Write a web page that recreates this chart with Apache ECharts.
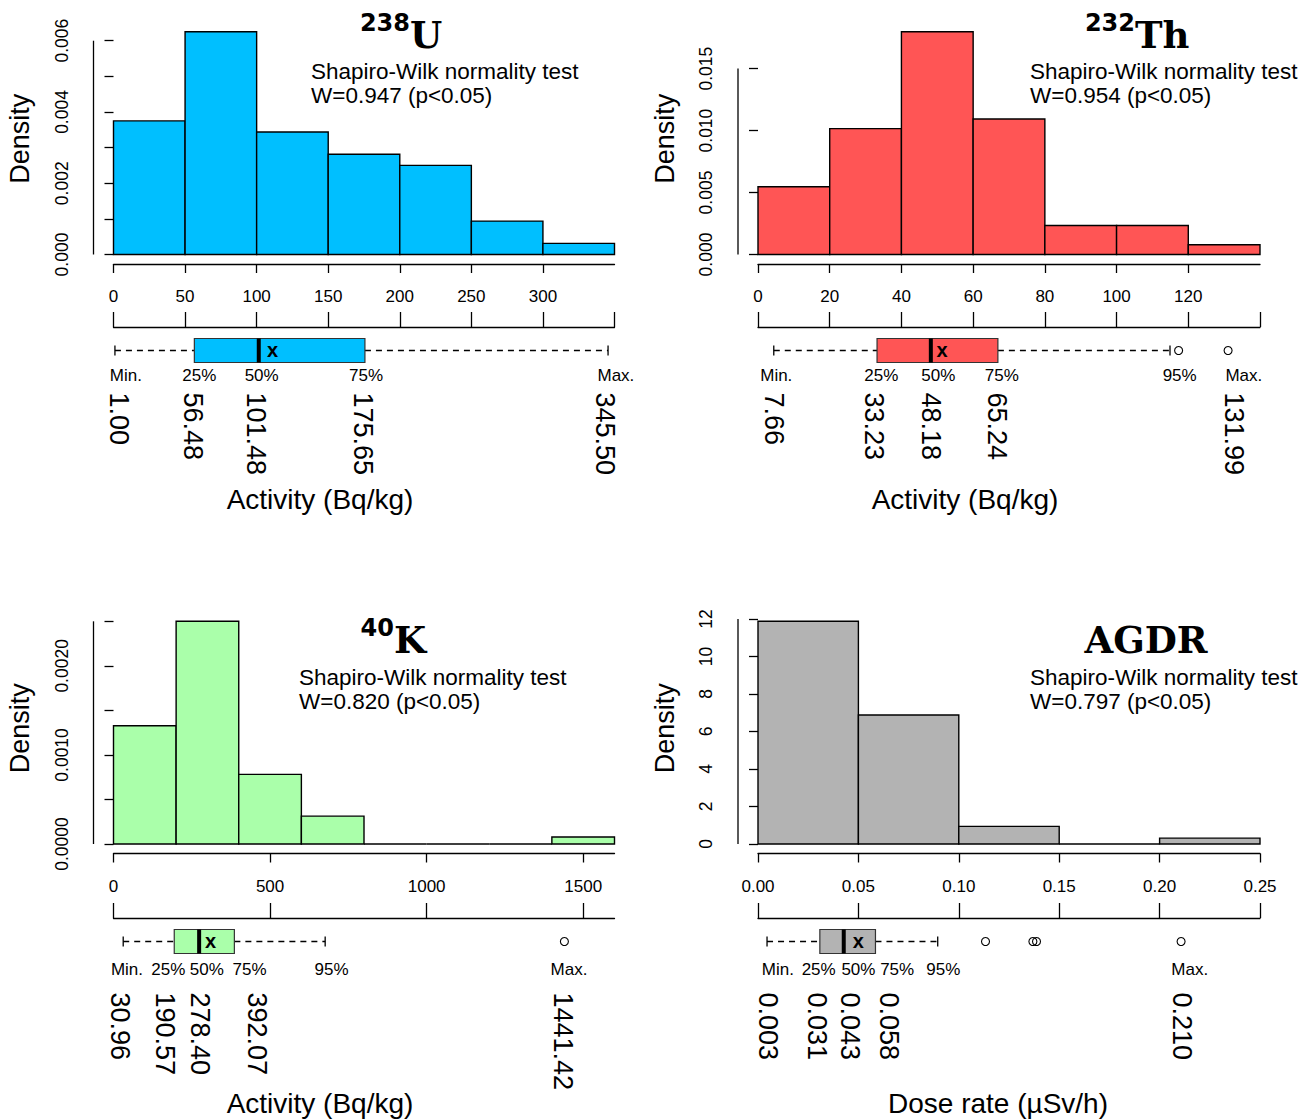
<!DOCTYPE html>
<html><head><meta charset="utf-8">
<script src="https://cdn.jsdelivr.net/npm/echarts@6/dist/echarts.min.js"></script>
<style>html,body{margin:0;padding:0;background:#fff}#c{width:1309px;height:1119px}</style>
</head><body><div id="c"></div>
<script>
// ================= DATA =================
// 238U
const uBreaks = [0, 50, 100, 150, 200, 250, 300, 350];
const uDensity = [0.00375, 0.00625, 0.0034375, 0.0028125, 0.0025, 0.0009375, 0.0003125];
const uAxisTicks = [0, 50, 100, 150, 200, 250, 300];
const uBracketTicks = [0, 50, 100, 150, 200, 250, 300, 350];
const uYTicks = [0, 0.001, 0.002, 0.003, 0.004, 0.005, 0.006];
const uYLabels = [0, 0.002, 0.004, 0.006];
const uBox = [1.0, 56.48, 101.48, 175.65, 345.5];   // whisker low, Q1, median, Q3, whisker high
const uMean = 111.2;
const uOutliers = [];
const uPctNames = ['Min.', '25%', '50%', '75%', 'Max.'];
const uPctAt = [8.6, 59.9, 103.5, 176.4, 351];
const uValNames = ['1.00', '56.48', '101.48', '175.65', '345.50'];
const uValAt = [3.8, 55.8, 99.3, 174, 343.2];
const uTest = ['Shapiro-Wilk normality test', 'W=0.947 (p<0.05)'];

// 232Th
const thBreaks = [0, 20, 40, 60, 80, 100, 120, 140];
const thDensity = [0.00546875, 0.01015625, 0.01796875, 0.0109375, 0.00234375, 0.00234375, 0.00078125];
const thAxisTicks = [0, 20, 40, 60, 80, 100, 120];
const thBracketTicks = [0, 20, 40, 60, 80, 100, 120, 140];
const thYTicks = [0, 0.005, 0.010, 0.015];
const thYLabels = [0, 0.005, 0.010, 0.015];
const thBox = [4.4, 33.2, 48.2, 66.9, 114.9];
const thMean = 51.3;
const thOutliers = [117.3, 131.1];
const thPctNames = ['Min.', '25%', '50%', '75%', '95%', 'Max.'];
const thPctAt = [5.1, 34.4, 50.3, 68.0, 117.6, 135.5];
const thValNames = ['7.66', '33.23', '48.18', '65.24', '131.99'];
const thValAt = [4.6, 32.4, 48.2, 66.7, 132.7];
const thTest = ['Shapiro-Wilk normality test', 'W=0.954 (p<0.05)'];

// 40K
const kBreaks = [0, 200, 400, 600, 800, 1000, 1200, 1400, 1600];
const kDensity = [0.00132813, 0.0025, 0.00078125, 0.0003125, 0, 0, 0, 0.000078125];
const kAxisTicks = [0, 500, 1000, 1500];
const kBracketTicks = [0, 500, 1000, 1500];
const kYTicks = [0, 0.0005, 0.0010, 0.0015, 0.0020, 0.0025];
const kYLabels = [0, 0.0010, 0.0020];
const kBox = [31, 194, 273.5, 386, 676];
const kMean = 310;
const kOutliers = [1440];
const kPctNames = ['Min.', '25%', '50%', '75%', '95%', 'Max.'];
const kPctAt = [43, 175, 298, 434.7, 696.6, 1454.8];
const kValNames = ['30.96', '190.57', '278.40', '392.07', '1441.42'];
const kValAt = [22.3, 164.4, 275.7, 456.7, 1436];
const kTest = ['Shapiro-Wilk normality test', 'W=0.820 (p<0.05)'];

// AGDR
const gBreaks = [0, 0.05, 0.10, 0.15, 0.20, 0.25];
const gDensity = [11.875, 6.875, 0.9375, 0, 0.3125];
const gAxisTicks = [0, 0.05, 0.10, 0.15, 0.20, 0.25];
const gBracketTicks = [0, 0.05, 0.10, 0.15, 0.20, 0.25];
const gYTicks = [0, 2, 4, 6, 8, 10, 12];
const gYLabels = [0, 2, 4, 6, 8, 10, 12];
const gBox = [0.0045, 0.0308, 0.0427, 0.0585, 0.0895];
const gMean = 0.050;
const gOutliers = [0.1133, 0.1369, 0.1387, 0.2107];
const gPctNames = ['Min.', '25%', '50%', '75%', '95%', 'Max.'];
const gPctAt = [0.0099, 0.0302, 0.0500, 0.0693, 0.0923, 0.2150];
const gValNames = ['0.003', '0.031', '0.043', '0.058', '0.210'];
const gValAt = [0.0048, 0.0292, 0.0457, 0.065, 0.2112];
const gTest = ['Shapiro-Wilk normality test', 'W=0.797 (p<0.05)'];

// ================= LAYOUT / STYLE =================
const SANS = '"Liberation Sans", Arial, Helvetica, sans-serif';
const SUPF = '"DejaVu Sans", "Liberation Sans", sans-serif';
const SERIF = '"DejaVu Serif", "Liberation Serif", serif';

const panels = [
  {breaks:uBreaks, density:uDensity, axisTicks:uAxisTicks, bracketTicks:uBracketTicks, yTicks:uYTicks, yLabels:uYLabels,
   yDigits:3, xDigits:0, box:uBox, mean:uMean, outliers:uOutliers, pctNames:uPctNames, pctAt:uPctAt, valNames:uValNames, valAt:uValAt,
   test:uTest, color:'#00BFFF', left:113.5, width:501, base:254.5, boxTop:327, pctDy:25, valDy:42,
   sup:'238', main:'U', titleX:410, supY:23, mainY:35, testX:311, testY:71, xTitle:'Activity (Bq/kg)', xTitleX:320, xTitleY:499},
  {breaks:thBreaks, density:thDensity, axisTicks:thAxisTicks, bracketTicks:thBracketTicks, yTicks:thYTicks, yLabels:thYLabels,
   yDigits:3, xDigits:0, box:thBox, mean:thMean, outliers:thOutliers, pctNames:thPctNames, pctAt:thPctAt, valNames:thValNames, valAt:thValAt,
   test:thTest, color:'#FF5555', left:758, width:502, base:254.5, boxTop:327, pctDy:25, valDy:42,
   sup:'232', main:'Th', titleX:1135, supY:23, mainY:35, testX:1030, testY:71, xTitle:'Activity (Bq/kg)', xTitleX:965, xTitleY:499},
  {breaks:kBreaks, density:kDensity, axisTicks:kAxisTicks, bracketTicks:kBracketTicks, yTicks:kYTicks, yLabels:kYLabels,
   yDigits:4, xDigits:0, box:kBox, mean:kMean, outliers:kOutliers, pctNames:kPctNames, pctAt:kPctAt, valNames:kValNames, valAt:kValAt,
   test:kTest, color:'#AAFFAA', left:113.5, width:501, base:844, boxTop:918, pctDy:28, valDy:51,
   sup:'40', main:'K', titleX:394, supY:628, mainY:640, testX:299, testY:677, xTitle:'Activity (Bq/kg)', xTitleX:320, xTitleY:1103},
  {breaks:gBreaks, density:gDensity, axisTicks:gAxisTicks, bracketTicks:gBracketTicks, yTicks:gYTicks, yLabels:gYLabels,
   yDigits:0, xDigits:2, box:gBox, mean:gMean, outliers:gOutliers, pctNames:gPctNames, pctAt:gPctAt, valNames:gValNames, valAt:gValAt,
   test:gTest, color:'#B3B3B3', left:758, width:502, base:844, boxTop:918, pctDy:28, valDy:51,
   sup:'', main:'AGDR', titleX:1146, supY:628, mainY:640, testX:1030, testY:677, xTitle:'Dose rate (\u00B5Sv/h)', xTitleX:998, xTitleY:1103}
];

const HIST_H = 231.6;
const LW = 1.3;
const grid = [], xAxis = [], yAxis = [], series = [], graphic = [];

function txt(props) {
  const s = props.style;
  if (s.textAlign) s.align = s.textAlign;
  if (s.textVerticalAlign) s.verticalAlign = s.textVerticalAlign;
  return props;
}

panels.forEach(p => {
  const gA = grid.length;
  const xmax = p.breaks[p.breaks.length - 1];
  const ymax = Math.max.apply(null, p.density) * 1.04;
  grid.push({left: p.left, width: p.width, top: p.base - HIST_H, height: HIST_H});
  grid.push({left: p.left, width: p.width, top: p.boxTop, height: 46});

  xAxis.push({gridIndex: gA, type: 'value', min: 0, max: xmax, position: 'bottom', offset: 9.5,
    axisLine: {show: true, onZero: false, lineStyle: {color: '#000', width: LW}},
    axisTick: {show: true, length: 9, customValues: p.axisTicks, lineStyle: {color: '#000', width: LW}},
    axisLabel: {show: true, customValues: p.axisTicks, fontSize: 17, color: '#000', fontFamily: SANS, margin: 24,
      formatter: v => Number(v).toFixed(p.xDigits)},
    splitLine: {show: false}});
  xAxis.push({gridIndex: gA + 1, type: 'value', min: 0, max: xmax, position: 'top',
    axisLine: {show: true, onZero: false, lineStyle: {color: '#000', width: LW}},
    axisTick: {show: true, inside: false, length: 15, customValues: p.bracketTicks, lineStyle: {color: '#000', width: LW}},
    axisLabel: {show: false}, splitLine: {show: false}});

  yAxis.push({gridIndex: gA, type: 'value', min: 0, max: ymax, position: 'left', offset: 20,
    axisLine: {show: false},
    axisTick: {show: true, length: 9, customValues: p.yTicks, lineStyle: {color: '#000', width: LW}},
    axisLabel: {show: true, customValues: p.yLabels, rotate: 90, fontSize: 17.5, color: '#000', fontFamily: SANS, margin: 23,
      formatter: v => Number(v).toFixed(p.yDigits)},
    splitLine: {show: false},
    name: 'Density', nameLocation: 'middle', nameRotate: 90, nameGap: 60,
    nameTextStyle: {fontSize: 27, color: '#000', fontFamily: SANS}});
  yAxis.push({gridIndex: gA + 1, type: 'value', min: 0, max: 1, show: false});

  // histogram bars
  series.push({type: 'custom', xAxisIndex: gA, yAxisIndex: gA, clip: false,
    data: p.density.map((d, k) => [p.breaks[k], p.breaks[k + 1], d]),
    encode: {x: [0, 1], y: 2},
    renderItem: (params, api) => {
      const a = api.coord([api.value(0), 0]);
      const b = api.coord([api.value(1), api.value(2)]);
      return {type: 'polygon', shape: {points: [[a[0], a[1]], [b[0], a[1]], [b[0], b[1]], [a[0], b[1]]]},
        style: {fill: p.color, stroke: '#000', lineWidth: 1.4}};
    }});

  // y axis line, from first to last tick (R style)
  series.push({type: 'custom', xAxisIndex: gA, yAxisIndex: gA, clip: false, silent: true,
    data: [[0, p.yTicks[0], p.yTicks[p.yTicks.length - 1]]],
    encode: {x: 0, y: [1, 2]},
    renderItem: (params, api) => {
      const a = api.coord([0, api.value(1)]);
      const b = api.coord([0, api.value(2)]);
      const x = a[0] - 20;
      return {type: 'line', shape: {x1: x, y1: a[1], x2: x, y2: b[1]}, style: {stroke: '#000', lineWidth: LW}};
    }});

  // box plot with labels
  series.push({type: 'custom', xAxisIndex: gA + 1, yAxisIndex: gA + 1, clip: false,
    data: [[p.box[0], p.box[4]]],
    encode: {x: [0, 1]},
    renderItem: (params, api) => {
      const X = v => api.coord([v, 0.5])[0];
      const cy = Math.round(api.coord([0, 0.5])[1]) + 0.5;
      const ch = [];
      const half = 12, cap = 5;
      const dash = {stroke: '#000', lineWidth: 1.3, lineDash: [6, 5]};
      const solid = {stroke: '#000', lineWidth: 1.3};
      ch.push({type: 'line', shape: {x1: X(p.box[0]), y1: cy, x2: X(p.box[1]), y2: cy}, style: dash});
      ch.push({type: 'line', shape: {x1: X(p.box[3]), y1: cy, x2: X(p.box[4]), y2: cy}, style: dash});
      ch.push({type: 'line', shape: {x1: X(p.box[0]), y1: cy - cap, x2: X(p.box[0]), y2: cy + cap}, style: solid});
      ch.push({type: 'line', shape: {x1: X(p.box[4]), y1: cy - cap, x2: X(p.box[4]), y2: cy + cap}, style: solid});
      ch.push({type: 'rect', shape: {x: X(p.box[1]), y: cy - half, width: X(p.box[3]) - X(p.box[1]), height: 2 * half},
        style: {fill: p.color, stroke: '#333', lineWidth: 1.2}});
      ch.push({type: 'line', shape: {x1: X(p.box[2]), y1: cy - half, x2: X(p.box[2]), y2: cy + half},
        style: {stroke: '#000', lineWidth: 4}});
      ch.push(txt({type: 'text', style: {text: 'x', x: X(p.mean), y: cy - 1, fill: '#000', fontSize: 20, fontWeight: 'bold',
        fontFamily: SANS, textAlign: 'center', textVerticalAlign: 'middle'}}));
      p.outliers.forEach(o => {
        ch.push({type: 'circle', shape: {cx: X(o), cy: cy, r: 4}, style: {fill: 'none', stroke: '#000', lineWidth: 1.1}});
      });
      p.pctNames.forEach((n, k) => {
        ch.push(txt({type: 'text', style: {text: n, x: X(p.pctAt[k]), y: cy + p.pctDy, fill: '#000', fontSize: 17,
          fontFamily: SANS, textAlign: 'center', textVerticalAlign: 'middle'}}));
      });
      p.valNames.forEach((n, k) => {
        ch.push(txt({type: 'text', x: X(p.valAt[k]), y: cy + p.valDy, rotation: -Math.PI / 2,
          style: {text: n, x: 0, y: 0, fill: '#000', fontSize: 27, fontFamily: SANS, textAlign: 'left', textVerticalAlign: 'middle'}}));
      });
      return {type: 'group', children: ch};
    }});

  // titles & annotations
  if (p.sup) {
    graphic.push(txt({type: 'text', x: p.titleX, y: p.supY, style: {text: p.sup, fill: '#000', fontSize: 24, fontWeight: 'bold',
      fontFamily: SUPF, textAlign: 'right', textVerticalAlign: 'middle'}}));
    graphic.push(txt({type: 'text', x: p.titleX, y: p.mainY, style: {text: p.main, fill: '#000', fontSize: 37, fontWeight: 'bold',
      fontFamily: SERIF, textAlign: 'left', textVerticalAlign: 'middle'}}));
  } else {
    graphic.push(txt({type: 'text', x: p.titleX, y: p.mainY, style: {text: p.main, fill: '#000', fontSize: 37, fontWeight: 'bold',
      fontFamily: SERIF, textAlign: 'center', textVerticalAlign: 'middle'}}));
  }
  p.test.forEach((t, k) => {
    graphic.push(txt({type: 'text', x: p.testX, y: p.testY + 24 * k, style: {text: t, fill: '#000', fontSize: 22.5,
      fontFamily: SANS, textAlign: 'left', textVerticalAlign: 'middle'}}));
  });
  graphic.push(txt({type: 'text', x: p.xTitleX, y: p.xTitleY, style: {text: p.xTitle, fill: '#000', fontSize: 28,
    fontFamily: SANS, textAlign: 'center', textVerticalAlign: 'middle'}}));
});

const chart = echarts.init(document.getElementById('c'), null, {renderer: 'svg'});
chart.setOption({
  backgroundColor: '#fff',
  animation: false,
  textStyle: {fontFamily: SANS},
  grid, xAxis, yAxis, series, graphic
});
</script>
</body></html>
